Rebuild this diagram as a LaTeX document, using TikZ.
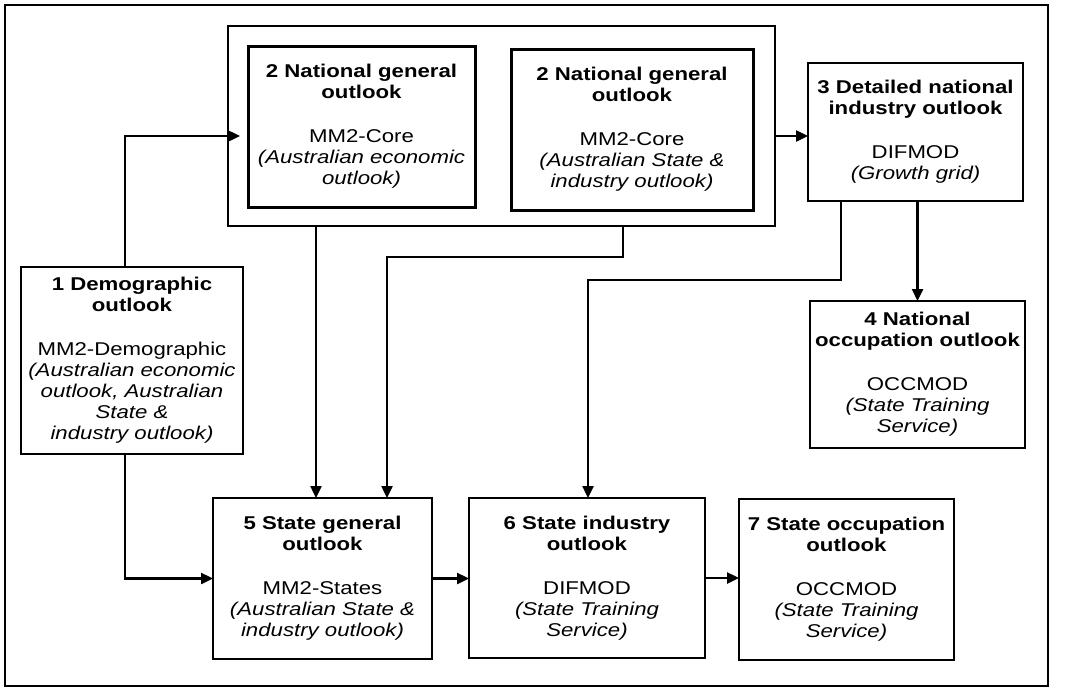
\documentclass[tikz,border=0pt]{standalone}
\usepackage{fontspec}
\setmainfont{Liberation Sans}[FakeStretch=1.2]
\usetikzlibrary{arrows.meta}
\tikzstyle{base}=[x=1pt, y=-1pt, inner sep=0pt, outer sep=0pt]
\tikzstyle{box}=[draw, line width=1.6pt, align=center, font=\fontsize{18.5pt}{21pt}\selectfont]
\tikzstyle{thickbox}=[box, line width=3pt]
\tikzstyle{link}=[line width=2.4pt, -{Triangle[length=12pt,width=11pt]}]

\begin{document}
\begin{tikzpicture}[base]
    \path [use as bounding box] (0,0) rectangle (1067,688);
    \draw [line width=1.6pt] (5,5) rectangle (1048,686);
    % national block
    \node [draw, line width=2.4pt, minimum width=547pt, minimum height=200pt] (grp) at (501.5,126) {};
    \node [thickbox, minimum width=227pt, minimum height=161pt, text width=223pt] (n2a) at (361.5,126.5)
        {\textbf{2 National general\\outlook}\\[23pt]MM2-Core\\\textit{(Australian economic\\outlook)}};
    \node [thickbox, minimum width=242pt, minimum height=161pt, text width=238pt] (n2b) at (632,129.5)
        {\textbf{2 National general\\outlook}\\[23pt]MM2-Core\\\textit{(Australian State \&\\industry outlook)}};
    \node [box, minimum width=215pt, minimum height=138pt, text width=211pt] (n3) at (915.5,132)
        {\textbf{3 Detailed national\\industry outlook}\\[23pt]DIFMOD\\\textit{(Growth grid)}};
    \node [box, minimum width=215pt, minimum height=147pt, text width=211pt] (n4) at (917.5,374.5)
        {\textbf{4 National\\occupation outlook}\\[23pt]OCCMOD\\\textit{(State Training\\Service)}};
    \node [box, minimum width=222pt, minimum height=187pt, text width=218pt] (n1) at (132,360.5)
        {\textbf{1 Demographic\\outlook}\\[23pt]MM2-Demographic\\\textit{(Australian economic\\outlook, Australian\\State \&\\industry outlook)}};
    % state level
    \node [box, minimum width=219pt, minimum height=161pt, text width=215pt] (n5) at (322.5,578.5)
        {\textbf{5 State general\\outlook}\\[23pt]MM2-States\\\textit{(Australian State \&\\industry outlook)}};
    \node [box, minimum width=236pt, minimum height=160pt, text width=232pt] (n6) at (587,578)
        {\textbf{6 State industry\\outlook}\\[23pt]DIFMOD\\\textit{(State Training\\Service)}};
    \node [box, minimum width=215pt, minimum height=161pt, text width=211pt] (n7) at (846.5,579.5)
        {\textbf{7 State occupation\\outlook}\\[23pt]OCCMOD\\\textit{(State Training\\Service)}};
    % links
    \draw [link] ([xshift=-7pt]n1.north) |- ([yshift=-9.5pt, xshift=-8pt]n2a.west);
    \draw [link] ([yshift=-10pt]grp.east) -- ([yshift=-10pt]grp.east -| n3.west);
    \draw [link] ([xshift=-6.5pt]n5.north |- grp.south) -- ([xshift=-6.5pt]n5.north);
    \draw [link] ([xshift=-9pt]n2b.south |- grp.south) -- ++(0,31) -| ([xshift=64.5pt]n5.north);
    \draw [link] ([xshift=-74.5pt]n3.south) -- ++(0,79) -| ([xshift=1pt]n6.north);
    \draw [link] (n3.south -| n4.north) -- (n4.north);
    \draw [link] ([xshift=-7pt]n1.south) |- (n5.west);
    \draw [link] (n5.east) -- (n5.east -| n6.west);
    \draw [link] (n6.east) -- (n6.east -| n7.west);
\end{tikzpicture}
\end{document}
